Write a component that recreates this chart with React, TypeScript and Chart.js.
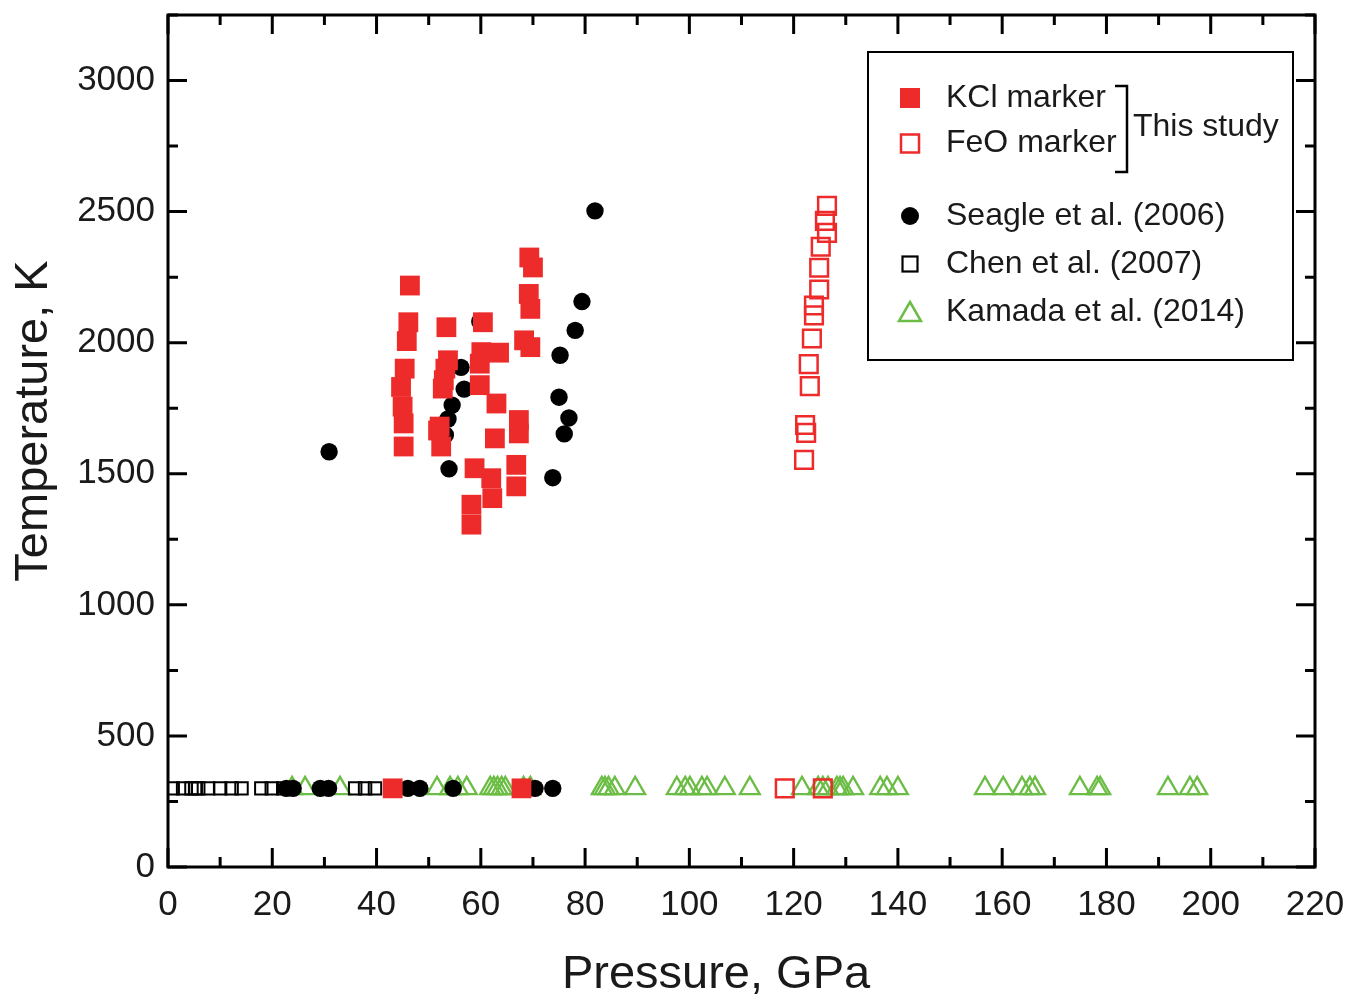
import React, { useEffect, useRef } from "react";
import { Chart, registerables } from "chart.js";

Chart.register(...registerables);

// ---- Data (Pressure GPa, Temperature K) ----
const KCL_P = [46.4, 46.1, 45.8, 45.4, 44.7, 45.0, 45.2, 45.2,
  53.4, 53.7, 53.2, 52.9, 52.7, 52.1, 52.4, 51.8,
  60.4, 60.1, 63.5, 59.8, 59.8, 63.0, 62.7, 67.3, 67.3, 66.8, 66.8, 58.8, 62.0, 62.2, 58.2, 58.2,
  69.3, 70.0, 69.2, 69.5, 68.3, 69.5,
  43.1, 67.8];
const KCL_T = [2218, 2078, 2006, 1901, 1831, 1756, 1692, 1604,
  2059, 1933, 1901, 1857, 1825, 1680, 1604, 1665,
  2078, 1964, 1962, 1920, 1838, 1768, 1635, 1705, 1654, 1534, 1452, 1521, 1483, 1407, 1382, 1306,
  2325, 2287, 2186, 2129, 2009, 1983,
  300, 300];

const FEO_P = [126.4, 126.0, 126.4, 125.2, 124.9, 124.9, 123.9, 123.9, 123.5, 122.9, 123.1, 122.2, 122.4, 122.0, 118.3, 125.6];
const FEO_T = [2522, 2465, 2419, 2366, 2286, 2203, 2142, 2104, 2016, 1918, 1834, 1686, 1656, 1553, 300, 300];

const SEAGLE_P = [30.9, 79.4, 78.1, 75.2, 75.0, 76.9, 76.0, 73.8, 53.9, 56.2, 56.8, 54.5, 53.7, 53.2, 59.8, 81.9,
  22.7, 24.0, 29.2, 30.8, 46.0, 48.3, 54.7, 70.4, 73.8];
const SEAGLE_T = [1584, 2157, 2047, 1952, 1792, 1713, 1652, 1485, 1519, 1906, 1823, 1762, 1709, 1648, 2081, 2503,
  300, 300, 300, 300, 300, 300, 300, 300, 300];

const CHEN_P = [0.9, 2.9, 4.5, 5.2, 5.8, 7.7, 10.0, 12.2, 14.1, 17.9, 19.9, 22.1, 35.9, 37.8, 39.7];
const CHEN_T = [300, 300, 300, 300, 300, 300, 300, 300, 300, 300, 300, 300, 300, 300, 300];

const KAMADA_P = [23.8, 26.3, 33.0, 51.6, 54.1, 55.6, 57.3, 61.8, 62.5, 63.2, 64.0, 64.7, 68.2, 69.5,
  83.2, 83.8, 84.5, 85.7, 89.6, 97.6, 99.2, 100.1, 102.4, 103.4, 106.8, 111.6, 121.6, 124.7, 125.6, 126.6,
  128.3, 128.9, 129.5, 131.4, 136.6, 137.9, 140.0, 156.7, 160.2, 163.8, 165.3, 166.3, 174.9, 178.2, 178.8,
  191.8, 196.0, 197.4];
const KAMADA_T = KAMADA_P.map(() => 300);

const X_TICKS = [0, 20, 40, 60, 80, 100, 120, 140, 160, 180, 200, 220];
const X_MINOR = [10, 30, 50, 70, 90, 110, 130, 150, 170, 190, 210];
const Y_TICKS = [0, 500, 1000, 1500, 2000, 2500, 3000];
const Y_MINOR = [250, 750, 1250, 1750, 2250, 2750, 3250];

const LEGEND_LABELS = ["KCl marker", "FeO marker", "Seagle et al. (2006)", "Chen et al. (2007)", "Kamada et al. (2014)"];
const BRACKET_LABEL = "This study";
const X_TITLE = "Pressure, GPa";
const Y_TITLE = "Temperature, K";

const RED = "#ed2b2a";
const GREEN = "#6cbd45";
const TEXT = "#1a1a1a";
const FONT = "'Liberation Sans', Arial, Helvetica, sans-serif";

const pts = (p: number[], t: number[]) => p.map((x, i) => ({ x, y: t[i] }));

const framePlugin = {
  id: "frameAndLegend",
  afterDraw(chart: any) {
    const { ctx, chartArea: a, scales } = chart;
    const xs = scales.x;
    const ys = scales.y;
    ctx.save();
    ctx.strokeStyle = "#000";
    ctx.lineWidth = 3;
    ctx.strokeRect(a.left, a.top, a.right - a.left, a.bottom - a.top);
    const MAJ = 19, MIN = 10;
    ctx.beginPath();
    const xt = (v: number, len: number) => {
      const x = xs.getPixelForValue(v);
      ctx.moveTo(x, a.bottom); ctx.lineTo(x, a.bottom - len);
      ctx.moveTo(x, a.top); ctx.lineTo(x, a.top + len);
    };
    const yt = (v: number, len: number) => {
      const y = ys.getPixelForValue(v);
      ctx.moveTo(a.left, y); ctx.lineTo(a.left + len, y);
      ctx.moveTo(a.right, y); ctx.lineTo(a.right - len, y);
    };
    X_TICKS.forEach((v) => xt(v, MAJ));
    X_MINOR.forEach((v) => xt(v, MIN));
    Y_TICKS.forEach((v) => yt(v, MAJ));
    Y_MINOR.forEach((v) => yt(v, MIN));
    ctx.stroke();

    // axis titles
    ctx.fillStyle = TEXT;
    ctx.font = `47px ${FONT}`;
    ctx.textAlign = "center";
    ctx.textBaseline = "middle";
    ctx.fillText(X_TITLE, 716, 975);
    ctx.save();
    ctx.translate(34, 421);
    ctx.rotate(-Math.PI / 2);
    ctx.fillText(Y_TITLE, 0, 0);
    ctx.restore();

    // legend
    ctx.lineWidth = 2;
    ctx.strokeStyle = "#000";
    ctx.strokeRect(868, 52, 425, 308);
    const sx = 910;
    const rows = [98, 143.5, 216, 264, 312];
    ctx.fillStyle = RED;
    ctx.fillRect(sx - 10, rows[0] - 10, 20, 20);
    ctx.strokeStyle = RED;
    ctx.lineWidth = 2.5;
    ctx.strokeRect(sx - 9, rows[1] - 9, 18, 18);
    ctx.fillStyle = "#000";
    ctx.beginPath();
    ctx.arc(sx, rows[2], 9, 0, Math.PI * 2);
    ctx.fill();
    ctx.strokeStyle = "#000";
    ctx.lineWidth = 2.2;
    ctx.strokeRect(sx - 7.5, rows[3] - 7.5, 15, 15);
    ctx.strokeStyle = GREEN;
    ctx.lineWidth = 2.5;
    ctx.beginPath();
    ctx.moveTo(sx, rows[4] - 10);
    ctx.lineTo(sx + 11, rows[4] + 9);
    ctx.lineTo(sx - 11, rows[4] + 9);
    ctx.closePath();
    ctx.stroke();

    ctx.fillStyle = TEXT;
    ctx.font = `32px ${FONT}`;
    ctx.textAlign = "left";
    ctx.textBaseline = "middle";
    LEGEND_LABELS.forEach((t, i) => ctx.fillText(t, 946, rows[i]));
    ctx.fillText(BRACKET_LABEL, 1133, 127);

    ctx.strokeStyle = "#000";
    ctx.lineWidth = 2.5;
    ctx.beginPath();
    ctx.moveTo(1115, 86); ctx.lineTo(1127, 86); ctx.lineTo(1127, 172); ctx.lineTo(1115, 172);
    ctx.stroke();
    ctx.restore();
  },
};

export default function App() {
  const ref = useRef<HTMLCanvasElement>(null);
  useEffect(() => {
    if (!ref.current) return;
    const chart = new Chart(ref.current, {
      type: "scatter",
      data: {
        datasets: [
          { label: LEGEND_LABELS[0], data: pts(KCL_P, KCL_T), pointStyle: "rect", pointRadius: 14, backgroundColor: RED, borderWidth: 0 },
          { label: LEGEND_LABELS[1], data: pts(FEO_P, FEO_T), pointStyle: "rect", pointRadius: 12.5, backgroundColor: "rgba(0,0,0,0)", borderColor: RED, borderWidth: 2.5 },
          { label: LEGEND_LABELS[2], data: pts(SEAGLE_P, SEAGLE_T), pointStyle: "circle", pointRadius: 8.7, backgroundColor: "#000", borderWidth: 0 },
          { label: LEGEND_LABELS[3], data: pts(CHEN_P, CHEN_T), pointStyle: "rect", pointRadius: 8.8, backgroundColor: "rgba(0,0,0,0)", borderColor: "#000", borderWidth: 2 },
          { label: LEGEND_LABELS[4], data: pts(KAMADA_P, KAMADA_T), pointStyle: "triangle", pointRadius: 11.5, backgroundColor: "rgba(0,0,0,0)", borderColor: GREEN, borderWidth: 2.3 },
        ] as any,
      },
      options: {
        animation: false,
        responsive: false,
        events: [],
        layout: { padding: { top: 12, right: 37, left: 0, bottom: 0 } },
        plugins: { legend: { display: false }, tooltip: { enabled: false } },
        scales: {
          x: {
            type: "linear",
            min: 0,
            max: 220,
            grid: { display: false, drawTicks: false },
            border: { display: false },
            ticks: { color: TEXT, font: { family: FONT, size: 35 }, padding: 17, maxRotation: 0, callback: (v: any) => String(v) },
            afterBuildTicks: (s: any) => { s.ticks = X_TICKS.map((value) => ({ value })); },
            afterFit: (s: any) => { s.height = 135; s.paddingLeft = 0; s.paddingRight = 0; },
          },
          y: {
            type: "linear",
            min: 0,
            max: 3250,
            grid: { display: false, drawTicks: false },
            border: { display: false },
            ticks: { color: TEXT, font: { family: FONT, size: 35 }, padding: 13, callback: (v: any) => String(v) },
            afterBuildTicks: (s: any) => { s.ticks = Y_TICKS.map((value) => ({ value })); },
            afterFit: (s: any) => { s.width = 168; s.paddingTop = 0; s.paddingBottom = 0; },
          },
        },
      },
      plugins: [framePlugin],
    });
    return () => chart.destroy();
  }, []);
  return (
    <div style={{ position: "fixed", left: 0, top: 0, width: 1352, height: 1002, background: "#fff" }}>
      <canvas ref={ref} width={1352} height={1002} />
    </div>
  );
}
